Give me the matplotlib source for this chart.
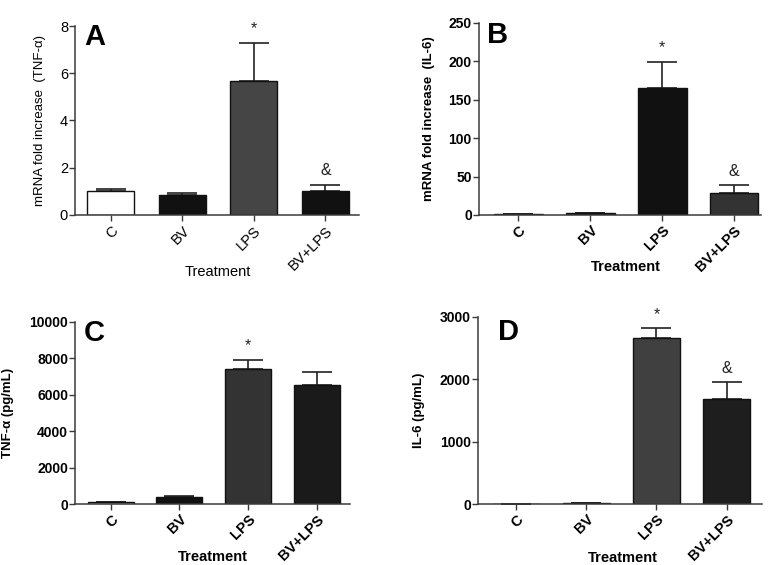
import matplotlib
matplotlib.use("Agg")
import matplotlib.pyplot as plt

plt.rcParams['font.family'] = ['Liberation Sans', 'DejaVu Sans']

categories = ["C", "BV", "LPS", "BV+LPS"]

# Panel A: TNF-a mRNA fold increase
a_vals = [1.0, 0.85, 5.69, 1.03]
a_err = [0.08, 0.09, 1.61, 0.24]
# Panel B: IL-6 mRNA fold increase
b_vals = [1.0, 2.0, 164.5, 29.0]
b_err = [0.3, 0.5, 34.0, 9.6]
# Panel C: TNF-a protein (pg/mL)
c_vals = [110, 400, 7390, 6520]
c_err = [10, 55, 530, 720]
# Panel D: IL-6 protein (pg/mL)
d_vals = [5, 10, 2658, 1684]
d_err = [2, 3, 160, 268]

fig = plt.figure(figsize=(7.72, 5.65), dpi=100)
W, H = 772, 565

def make_ax(left, right, y0, ytop):
    return fig.add_axes([left / W, 1 - y0 / H, (right - left) / W, (y0 - ytop) / H])

panels = [
    dict(rect=(75, 359, 215, 26), vals=a_vals, err=a_err, ylim=(0, 8), yticks=[0, 2, 4, 6, 8],
         colors=['white', '#111111', '#454545', '#111111'], xlim=(-0.5, 3.47), width=0.66,
         ylabel='mRNA fold increase  (TNF-α)', letter='A', bold=False,
         marks={2: '*', 3: '&'}, ylab_x=40, letter_xy=(84, 37), xlab_y=272, xlab_x=218),
    dict(rect=(478.7, 761, 215, 22.7), vals=b_vals, err=b_err, ylim=(0, 250), yticks=[0, 50, 100, 150, 200, 250],
         colors=['#111111', '#111111', '#111111', '#333333'], xlim=(-0.55, 3.375), width=0.68,
         ylabel='mRNA fold increase  (IL-6)', letter='B', bold=True,
         marks={2: '*', 3: '&'}, ylab_x=429, letter_xy=(487, 35), xlab_y=267, xlab_x=626),
    dict(rect=(75, 350, 504, 321.7), vals=c_vals, err=c_err, ylim=(0, 10000), yticks=[0, 2000, 4000, 6000, 8000, 10000],
         colors=['#dddddd', '#111111', '#333333', '#1a1a1a'], xlim=(-0.52, 3.486), width=0.67,
         ylabel='TNF-α (pg/mL)', letter='C', bold=True,
         marks={2: '*'}, ylab_x=8, letter_xy=(84, 333), xlab_y=557, xlab_x=213),
    dict(rect=(477.7, 762, 504, 317), vals=d_vals, err=d_err, ylim=(0, 3000), yticks=[0, 1000, 2000, 3000],
         colors=['#dddddd', '#dddddd', '#404040', '#1e1e1e'], xlim=(-0.554, 3.507), width=0.67,
         ylabel='IL-6 (pg/mL)', letter='D', bold=True,
         marks={2: '*', 3: '&'}, ylab_x=419, letter_xy=(498, 332), xlab_y=558, xlab_x=623),
]

spine_c = '#3a3a3a'
for p in panels:
    ax = make_ax(*p['rect'])
    x = list(range(len(categories)))
    ax.bar(x, p['vals'], width=p['width'], color=p['colors'], edgecolor='#111111', linewidth=1.0, zorder=2)
    ax.errorbar(x, p['vals'], yerr=[[0] * 4, p['err']], fmt='none', ecolor='#222222',
                elinewidth=1.2, capsize=10.5, capthick=1.2, zorder=1)
    ax.set_xlim(*p['xlim'])
    ax.set_ylim(*p['ylim'])
    ax.set_yticks(p['yticks'])
    ax.set_xticks(x)
    fw = 'bold' if p['bold'] else 'normal'
    ax.set_xticklabels(categories, rotation=45, ha='right', rotation_mode='anchor', fontsize=10.5, fontweight=fw)
    for lab in ax.get_yticklabels():
        lab.set_fontsize(10.5 if not p['bold'] else 10)
        lab.set_fontweight(fw)
    for s in ['top', 'right']:
        ax.spines[s].set_visible(False)
    for s in ['left', 'bottom']:
        ax.spines[s].set_color(spine_c)
        ax.spines[s].set_linewidth(1.1)
    ax.tick_params(axis='y', direction='out', length=4, width=1.0, color=spine_c, pad=1)
    ax.tick_params(axis='x', direction='out', length=4, width=1.0, color=spine_c, pad=2)
    ymax = p['ylim'][1]
    for i, m in p['marks'].items():
        top = p['vals'][i] + p['err'][i]
        ax.text(i, top + ymax * 0.035, m, ha='center', va='bottom', fontsize=11.5, color='#222222')
    fig.text(p['ylab_x'] / W, 1 - ((p['rect'][2] + p['rect'][3]) / 2) / H, p['ylabel'],
             rotation=90, ha='center', va='center', fontsize=9.5, fontweight=fw)
    fig.text(p['letter_xy'][0] / W, 1 - p['letter_xy'][1] / H, p['letter'], ha='left', va='center',
             fontsize=21, fontweight='bold')
    fig.text(p['xlab_x'] / W, 1 - p['xlab_y'] / H, 'Treatment', ha='center', va='center',
             fontsize=10.5, fontweight='bold' if p['bold'] else 'normal')

fig.savefig('out.png', dpi=100)
